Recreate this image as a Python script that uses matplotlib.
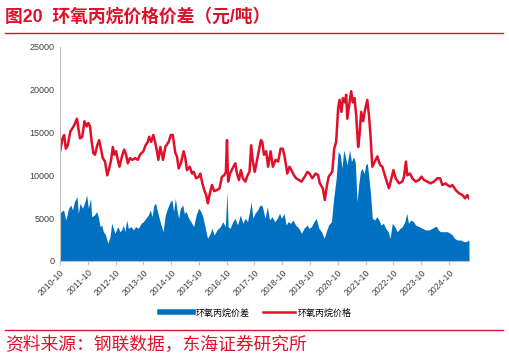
import matplotlib
matplotlib.use("Agg")
import matplotlib.pyplot as plt
from matplotlib.lines import Line2D

plt.rcParams['font.family'] = ['Liberation Sans', 'Noto Sans CJK SC', 'DejaVu Sans']

# Propylene oxide price (yuan/ton); time in decimal years
price_t = [2010.75, 2010.84, 2010.90, 2010.96, 2011.03, 2011.12, 2011.20, 2011.27, 2011.36, 2011.41,
           2011.47, 2011.55, 2011.63, 2011.71, 2011.77, 2011.83, 2011.89, 2011.95, 2012.01, 2012.09,
           2012.16, 2012.23, 2012.29, 2012.37, 2012.45, 2012.52, 2012.59, 2012.65, 2012.71, 2012.77,
           2012.83, 2012.89, 2012.98, 2013.06, 2013.13, 2013.19, 2013.27, 2013.36, 2013.45, 2013.55,
           2013.63, 2013.75, 2013.83, 2013.91, 2013.96, 2014.03, 2014.11, 2014.17, 2014.23, 2014.29,
           2014.36, 2014.46, 2014.54, 2014.66, 2014.74, 2014.81, 2014.90, 2014.96, 2015.02, 2015.10,
           2015.20, 2015.26, 2015.32, 2015.42, 2015.50, 2015.56, 2015.65, 2015.74, 2015.80, 2015.86,
           2015.94, 2016.01, 2016.07, 2016.13, 2016.22, 2016.30, 2016.40, 2016.49, 2016.58, 2016.66,
           2016.72, 2016.76, 2016.80, 2016.87, 2016.96, 2017.06, 2017.12, 2017.19, 2017.26, 2017.33,
           2017.42, 2017.50, 2017.57, 2017.63, 2017.69, 2017.76, 2017.83, 2017.89, 2017.98, 2018.03,
           2018.09, 2018.17, 2018.24, 2018.33, 2018.41, 2018.51, 2018.60, 2018.69, 2018.77, 2018.84,
           2018.93, 2019.01, 2019.11, 2019.17, 2019.25, 2019.35, 2019.44, 2019.56, 2019.65, 2019.73,
           2019.83, 2019.95, 2020.04, 2020.10, 2020.21, 2020.28, 2020.36, 2020.42, 2020.55, 2020.62,
           2020.69, 2020.76, 2020.81, 2020.88, 2020.93, 2021.00, 2021.05, 2021.09, 2021.17, 2021.23,
           2021.29, 2021.35, 2021.41, 2021.48, 2021.53, 2021.59, 2021.66, 2021.72, 2021.81, 2021.87,
           2021.93, 2021.99, 2022.08, 2022.17, 2022.27, 2022.35, 2022.44, 2022.53, 2022.59, 2022.68,
           2022.75, 2022.83, 2022.95, 2023.07, 2023.13, 2023.20, 2023.25, 2023.35, 2023.43, 2023.55,
           2023.67, 2023.76, 2023.85, 2023.97, 2024.09, 2024.21, 2024.33, 2024.43, 2024.51, 2024.63,
           2024.69, 2024.79, 2024.87, 2024.99, 2025.11, 2025.23, 2025.33, 2025.41, 2025.47]
price_v = [12760, 14300, 14700, 13100, 13500, 15100, 15500, 15900, 16600, 15500,
           14300, 14500, 16300, 15700, 16100, 15700, 13900, 12600, 12400, 13500,
           14100, 13000, 12000, 11600, 10000, 10800, 11800, 13300, 12400, 12800,
           11800, 11000, 12200, 13000, 12400, 11400, 12000, 11800, 12000, 11800,
           12400, 12800, 13500, 13900, 14500, 13900, 14700, 13900, 13000, 11800,
           13300, 11800, 13300, 13900, 14700, 14700, 12600, 12200, 10800, 11400,
           12800, 12000, 10600, 11000, 10200, 10400, 9650, 9800, 10200, 9260,
           8280, 7700, 6730, 7700, 8870, 8150, 8280, 8480, 9840, 10000,
           10400, 14100, 9260, 10200, 10800, 11400, 10200, 9450, 10600, 9650,
           9260, 10000, 10400, 13500, 11600, 10400, 11600, 12600, 14100, 13900,
           12400, 12800, 11000, 12800, 11000, 11800, 11600, 13100, 13100, 12100,
           10200, 11000, 10400, 10000, 9650, 9450, 9260, 9840, 10400, 10200,
           9650, 10200, 10000, 9060, 8480, 7120, 8870, 9840, 10420, 13100,
           13900, 17800, 18800, 17400, 19000, 18500, 19400, 16600, 18500, 19800,
           18500, 19000, 17000, 13300, 14700, 17400, 16300, 17500, 18800, 17000,
           14400, 11000, 11600, 12200, 11200, 11000, 10000, 9060, 8480, 9650,
           10600, 9650, 9060, 9260, 9840, 11600, 10000, 10200, 9650, 9260,
           9450, 9840, 9450, 9260, 9060, 9260, 9650, 9650, 8870, 9060,
           8870, 8670, 8870, 8280, 7900, 7700, 7310, 7700, 7310]

# Propylene oxide spread (yuan/ton)
spread_t = [2010.75, 2010.79, 2010.88, 2010.96, 2011.06, 2011.14, 2011.20, 2011.27, 2011.36, 2011.41,
            2011.47, 2011.56, 2011.65, 2011.71, 2011.77, 2011.85, 2011.89, 2011.99, 2012.07, 2012.13,
            2012.19, 2012.25, 2012.31, 2012.39, 2012.47, 2012.55, 2012.61, 2012.67, 2012.73, 2012.83,
            2012.91, 2012.97, 2013.03, 2013.09, 2013.15, 2013.21, 2013.31, 2013.39, 2013.47, 2013.57,
            2013.67, 2013.75, 2013.84, 2013.93, 2014.00, 2014.06, 2014.13, 2014.19, 2014.26, 2014.36,
            2014.46, 2014.54, 2014.62, 2014.72, 2014.78, 2014.84, 2014.90, 2014.96, 2015.02, 2015.08,
            2015.17, 2015.22, 2015.29, 2015.38, 2015.46, 2015.56, 2015.65, 2015.74, 2015.82, 2015.89,
            2015.98, 2016.06, 2016.16, 2016.22, 2016.30, 2016.40, 2016.52, 2016.61, 2016.70, 2016.76,
            2016.80, 2016.87, 2016.97, 2017.05, 2017.14, 2017.24, 2017.33, 2017.42, 2017.50, 2017.57,
            2017.63, 2017.69, 2017.77, 2017.86, 2017.95, 2018.03, 2018.13, 2018.21, 2018.29, 2018.38,
            2018.48, 2018.57, 2018.65, 2018.72, 2018.81, 2018.89, 2018.96, 2019.05, 2019.13, 2019.23,
            2019.35, 2019.44, 2019.53, 2019.65, 2019.71, 2019.80, 2019.89, 2019.97, 2020.07, 2020.16,
            2020.26, 2020.33, 2020.42, 2020.52, 2020.60, 2020.69, 2020.76, 2020.84, 2020.90, 2020.96,
            2021.02, 2021.08, 2021.17, 2021.24, 2021.32, 2021.38, 2021.44, 2021.50, 2021.56, 2021.62,
            2021.70, 2021.75, 2021.81, 2021.87, 2021.93, 2021.99, 2022.08, 2022.15, 2022.23, 2022.30,
            2022.39, 2022.47, 2022.56, 2022.63, 2022.71, 2022.80, 2022.89, 2022.99, 2023.07, 2023.16,
            2023.23, 2023.29, 2023.37, 2023.47, 2023.55, 2023.67, 2023.79, 2023.91, 2024.03, 2024.15,
            2024.24, 2024.31, 2024.36, 2024.45, 2024.57, 2024.69, 2024.79, 2024.87, 2024.95, 2025.05,
            2025.17, 2025.29, 2025.38, 2025.45, 2025.47]
spread_v = [5400, 5760, 5950, 4780, 6150, 6530, 5950, 6920, 7510, 5560,
            6730, 6150, 6920, 7700, 6150, 7310, 5170, 5370, 5760, 5170,
            4010, 4200, 3420, 3030, 2060, 2800, 4400, 3810, 3230, 4010,
            3420, 3620, 4200, 3420, 4780, 3810, 4010, 3620, 4010, 3810,
            4400, 4590, 4980, 5370, 5950, 5170, 6530, 6730, 5760, 4500,
            3420, 5370, 6150, 6920, 7120, 5760, 7310, 5950, 4980, 6150,
            6530, 5560, 5760, 4980, 4590, 4010, 5370, 6150, 5760, 5170,
            3810, 2640, 3230, 3810, 3030, 3620, 4010, 4590, 4010, 8090,
            4010, 3810, 4590, 4980, 4200, 5370, 4400, 4980, 4590, 5760,
            6920, 4980, 5560, 5950, 6530, 6400, 4980, 6340, 4780, 5170,
            4590, 4980, 5560, 4980, 5560, 4200, 4590, 4400, 4780, 4200,
            3810, 3230, 3810, 4200, 3810, 4000, 4590, 4980, 3810, 3420,
            2640, 3420, 4200, 4590, 7310, 9650, 12760, 12370, 10810, 12950,
            12170, 11200, 12950, 11600, 12170, 11400, 6920, 8870, 10420, 10810,
            10200, 11200, 11400, 9650, 7700, 4980, 4780, 5170, 4780, 4200,
            4400, 3810, 3420, 2640, 4400, 4010, 3420, 3810, 4010, 4590,
            5560, 4400, 4780, 4590, 4200, 4010, 3810, 3620, 3620, 3810,
            4010, 4010, 3620, 3420, 3420, 3420, 3230, 3030, 2640, 2450,
            2450, 2260, 2260, 2450, 2260]

tick_labels = ["2010-10", "2011-10", "2012-10", "2013-10", "2014-10", "2015-10", "2016-10",
               "2017-10", "2018-10", "2019-10", "2020-10", "2021-10", "2022-10", "2023-10", "2024-10"]
y_ticks = [0, 5000, 10000, 15000, 20000, 25000]

RED = '#E0102A'
BLUE = '#0070C0'
GRAY = '#404040'

fig = plt.figure(figsize=(5.09, 3.59), dpi=100)
ax = fig.add_axes([60/509, 1-261/359, (469-60)/509, (261-46.7)/359])

ax.fill_between(spread_t, spread_v, 0, color=BLUE, lw=0)
ax.plot(price_t, price_v, color=RED, lw=1.8, solid_joinstyle='round')

ax.set_xlim(2010.75, 2025.47)
ax.set_ylim(0, 25000)
ax.set_yticks(y_ticks)
ax.set_yticklabels([str(v) for v in y_ticks], fontsize=6.5, color=GRAY)
xt = [2010.75 + i for i in range(len(tick_labels))]
ax.set_xticks(xt)
ax.set_xticklabels(tick_labels, rotation=45, ha='right', rotation_mode='anchor', fontsize=6.3, color=GRAY)
ax.tick_params(axis='y', length=0, pad=4)
ax.tick_params(axis='x', length=3, color='#BFBFBF', width=0.8, pad=2)
for s in ['top', 'right']:
    ax.spines[s].set_visible(False)
for s in ['left', 'bottom']:
    ax.spines[s].set_color('#BFBFBF')
    ax.spines[s].set_linewidth(0.8)

handles = [Line2D([0], [0], color=BLUE, lw=4), Line2D([0], [0], color=RED, lw=1.8)]
fig.legend(handles, ['环氧丙烷价差', '环氧丙烷价格'], loc='center', bbox_to_anchor=(256/509, 1-313/359),
           ncol=2, frameon=False, fontsize=6.5, handlelength=3.6, columnspacing=1.5, handletextpad=0.3)

fig.text(5/509, 1-17/359, '图20  环氧丙烷价格价差（元/吨）', color=RED, fontsize=12.8, fontweight='bold',
         va='center', ha='left')
fig.add_artist(Line2D([5/509, 503/509], [1-32.5/359, 1-32.5/359], color=RED, lw=1.0))
fig.add_artist(Line2D([5/509, 503/509], [1-330/359, 1-330/359], color=RED, lw=1.0))
fig.text(5/509, 1-345/359, '资料来源：钢联数据，东海证券研究所', color=RED, fontsize=12.8,
         va='center', ha='left')

fig.savefig('out.png', dpi=100)
